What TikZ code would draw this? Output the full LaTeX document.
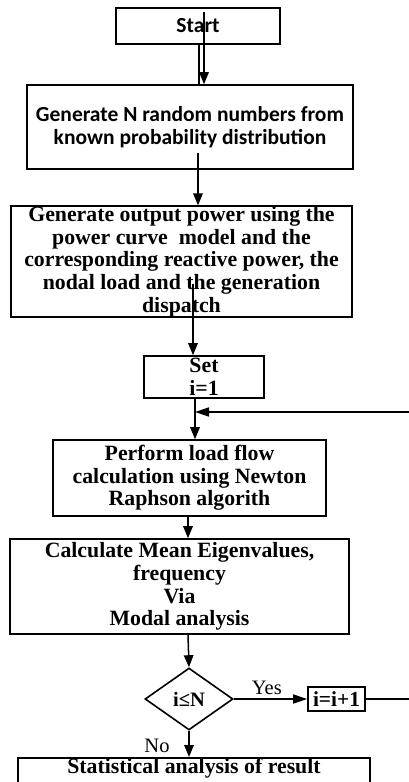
\documentclass[tikz,border=0pt]{standalone}
\usepackage{fontspec}
\setmainfont{Liberation Serif}
\newfontfamily\calfont{Carlito}
\usetikzlibrary{shapes.geometric,arrows.meta}
\newcommand\mySerif{\fontsize{21.8}{22.7}\selectfont\bfseries}
\newcommand\mySans{\calfont\fontsize{21.5}{23}\selectfont\bfseries}
\begin{document}
\begin{tikzpicture}[x=1pt,y=-1pt,
  box/.style={draw, line width=1.6pt, inner sep=0pt, align=center, font=\mySerif},
  sbox/.style={box, font=\mySans},
  conn/.style={line width=1.5pt},
  arr/.style={conn, -{Triangle[length=12pt,width=9.5pt]}},
  harr/.style={conn, -{Triangle[length=14pt,width=9pt]}},
  lbl/.style={font=\fontsize{20.5}{22}\selectfont, inner sep=0pt}]
\useasboundingbox (0,0) rectangle (409,782);
\clip (0,0) rectangle (409,782);

\node (start) [sbox, minimum width=164, minimum height=36] at (198,26) {Start};
\node (gen) [sbox, minimum width=326, minimum height=84] at (190,127)
  {Generate N random numbers from\\known probability distribution};
\node (pow) [box, minimum width=341, minimum height=109] at (181.5,261.5)
  {Generate output power using the\\power curve\ \ model and the\\corresponding reactive power, the\\nodal load and the generation\\dispatch};
\node (set) [box, minimum width=120, minimum height=42] at (204,377) {Set\\i=1};
\node (lf) [box, minimum width=273, minimum height=76] at (189.5,478)
  {Perform load flow\\calculation using Newton\\Raphson algorith};
\node (eig) [box, minimum width=339, minimum height=95] at (179.5,586.5)
  {Calculate Mean Eigenvalues,\\frequency\\Via\\Modal analysis};
\node (dec) [diamond, draw, line width=1.6pt, inner sep=0pt, minimum width=88, minimum height=62,
  font=\fontsize{20.5}{22}\selectfont\bfseries] at (189,699) {i≤N};
\node (inc) [box, minimum width=57, minimum height=24, font=\fontsize{21.4}{22}\selectfont\bfseries] at (336.5,699) {i=i+1};
\node (stat) [box, minimum width=352, minimum height=50, anchor=north] at (194,757) {};
\node (statlbl) [font=\mySerif, inner sep=0pt] at (194,768) {Statistical analysis of result};

% connectors
\draw[arr] ([shift={(6,5)}]start.north) -- ([xshift=6]start.north |- gen.north);
\draw[conn] ([xshift=1]start.south) -- ([xshift=1]start.south |- gen.north);
\draw[arr] ([shift={(8,-17)}]gen.south) -- ([xshift=8]gen.south |- pow.north);
\draw[arr] ([shift={(11.5,-34)}]pow.south) -- ([xshift=-11]set.north);
\draw[arr] ([xshift=-9]set.south) -- ([xshift=-9]set.south |- lf.north);
\coordinate (fbR) at (409,412);
\coordinate (fbL) at (195,412);
\draw[harr] (fbR) -- (fbL);
\draw[arr] ([xshift=-1.5]lf.south) -- ([xshift=-1.5]lf.south |- eig.north);
\draw[arr] ([xshift=8.5]eig.south) -- (dec.north);
\draw[harr] (dec.east) -- node[lbl, above=4pt, pos=0.45] {Yes} (inc.west);
\coordinate (incR) at (409,699);
\draw[conn] (inc.east) -- (incR);
\draw[arr] (dec.south) -- (dec.south |- stat.north);
\node (no) [lbl] at (157,746) {No};
\end{tikzpicture}
\end{document}
